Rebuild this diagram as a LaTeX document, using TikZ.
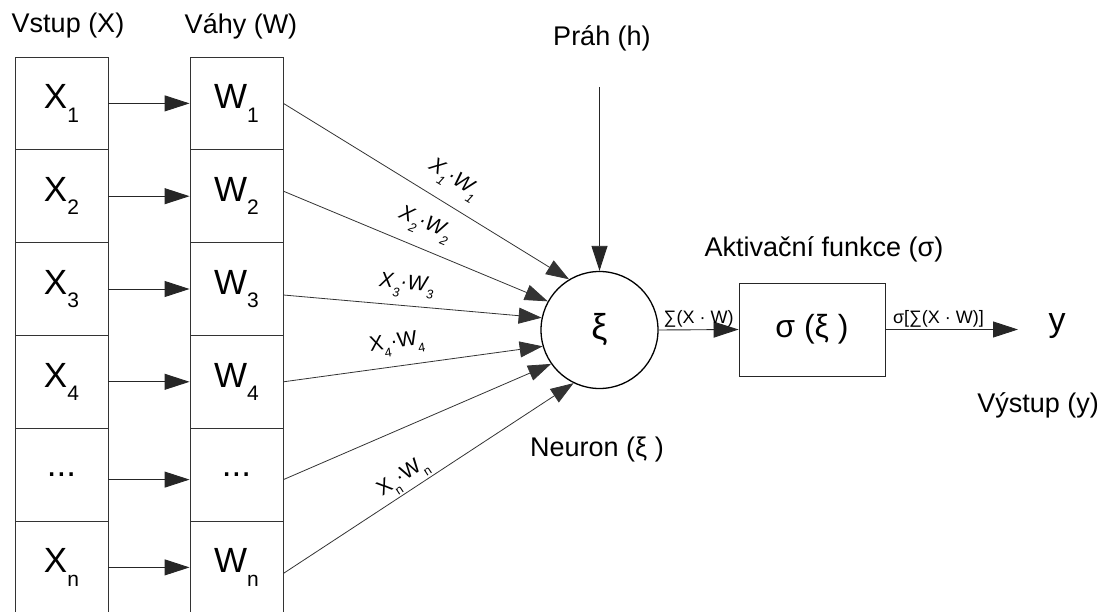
\documentclass[tikz,border=0pt]{standalone}
\usepackage{fontspec}
\setmainfont{Liberation Sans}
\usepackage{graphicx}
\usetikzlibrary{arrows.meta}
\newcommand\sbx[1]{\raisebox{-0.38em}{\scalebox{0.6}{#1}}}
\newcommand\fsz[1]{\fontsize{#1}{#1}\selectfont}
\begin{document}
\begin{tikzpicture}[x=1pt,y=-1pt,
  cell/.style={draw=black!80, line width=0.9pt, minimum width=93pt, minimum height=92.8pt, inner sep=0pt, font=\fsz{35}},
  arr/.style={draw=black!85, line width=0.9pt, -{Triangle[length=25pt,width=16pt]}},
  thin arr/.style={draw=black!80, line width=0.8pt, -{Triangle[length=23pt,width=16pt]}},
  lbl/.style={font=\fsz{27}},
  elbl/.style={font=\fsz{21}, sloped, inner sep=2pt},
  slbl/.style={font=\fsz{18}, above, inner sep=2pt},
]
\useasboundingbox (0,0) rectangle (1105,612);

% headers
\node[lbl] (vstup) at (68,26) {Vstup (X)};
\node[lbl] (vahy) at (241,26) {Váhy (W)};

% input and weight cells
\node[cell] (x1) at (61.5,103.4) {X\sbx{1}};
\node[cell] (x2) at (61.5,196.2) {X\sbx{2}};
\node[cell] (x3) at (61.5,289.0) {X\sbx{3}};
\node[cell] (x4) at (61.5,381.8) {X\sbx{4}};
\node[cell] (x5) at (61.5,474.6) {...};
\node[cell] (x6) at (61.5,567.4) {X\sbx{n}};

\node[cell] (w1) at (236.5,103.4) {W\sbx{1}};
\node[cell] (w2) at (236.5,196.2) {W\sbx{2}};
\node[cell] (w3) at (236.5,289.0) {W\sbx{3}};
\node[cell] (w4) at (236.5,381.8) {W\sbx{4}};
\node[cell] (w5) at (236.5,474.6) {...};
\node[cell] (w6) at (236.5,567.4) {W\sbx{n}};

\draw[arr] (x1) -- (w1);
\draw[arr] (x2) -- (w2);
\draw[arr] (x3) -- (w3);
\draw[arr] (x4) -- (w4);
\draw[arr] ([yshift=-5pt]x5.east) -- ([yshift=-5pt]w5.west);
\draw[arr] (x6) -- (w6);

% neuron
\node[circle, draw=black, line width=1.3pt, minimum size=117pt, inner sep=0pt, font=\fsz{36}] (n) at (599.5,330) {ξ};
\node[lbl] (neur) at (597,450) {Neuron (ξ )};

% threshold
\node[lbl] (prah) at (602,38) {Práh (h)};
\coordinate (hs) at (599.5,87);
\draw[arr] (hs) -- (n.north);

% weighted inputs
\draw[thin arr] (w1.east) -- node[elbl, pos=0.55, above=10pt] {\itshape X\sbx{1}·W\sbx{1}} (n.121);
\draw[thin arr] ([yshift=5pt]w2.east) -- node[elbl, pos=0.50, above=9pt] {\itshape X\sbx{2}·W\sbx{2}} (n.151);
\draw[thin arr] ([yshift=-6pt]w3.east) -- node[elbl, pos=0.47, above=6pt] {\itshape X\sbx{3}·W\sbx{3}} (n.168);
\draw[thin arr] (w4.east) -- node[elbl, pos=0.45, above=8pt] {X\sbx{4}·W\sbx{4}} (n.196);
\draw[thin arr] ([yshift=-5pt]w5.east) -- (n.215);
\draw[thin arr] ([yshift=-6pt]w6.east) -- node[elbl, pos=0.44, above=0pt] {X\sbx{n}·W\sbx{n}} (n.244);

% activation
\node[lbl] (akt) at (824,249) {Aktivační funkce (σ)};
\node[draw=black!85, line width=0.9pt, minimum width=146pt, minimum height=93pt, font=\fsz{32}] (s) at (812,329.5) {σ (ξ )};
\draw[arr] (n.east) -- node[slbl] {∑(X · W)} (s.west);

% output
\coordinate (ye) at (1018,329.5);
\draw[arr] (s.east) -- node[slbl, pos=0.4] {σ[∑(X · W)]} (ye);
\node[font=\fsz{34}] (ylab) at (1057,326) {y};
\node[lbl] (vyst) at (1038,405) {Výstup (y)};
\end{tikzpicture}
\end{document}
